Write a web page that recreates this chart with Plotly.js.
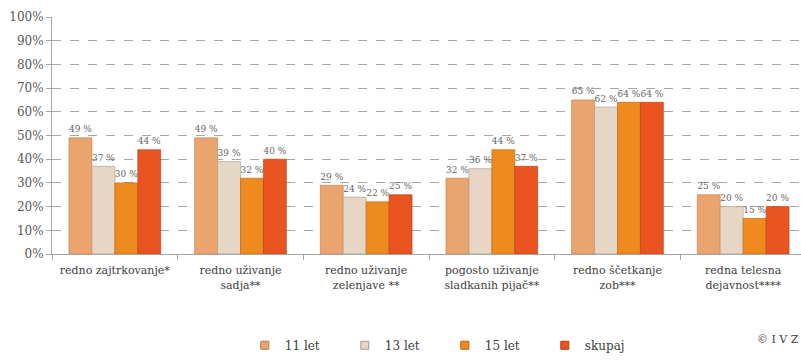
<!DOCTYPE html>
<html>
<head>
<meta charset="utf-8">
<script src="https://cdn.plot.ly/plotly-3.0.1.min.js"></script>
<style>
html,body{margin:0;padding:0;overflow:hidden;background:#fff;width:801px;height:364px;}
#chart{width:810px;height:364px;}
</style>
</head>
<body>
<div id="chart"></div>
<script>
const categories = [
  "redno zajtrkovanje*",
  "redno uživanje<br>sadja**",
  "redno uživanje<br>zelenjave **",
  "pogosto uživanje<br>sladkanih pijač**",
  "redno ščetkanje<br>zob***",
  "redna telesna<br>dejavnost****"
];
const seriesNames = ["11 let", "13 let", "15 let", "skupaj"];
const v11 = [0.49, 0.49, 0.29, 0.32, 0.65, 0.25];
const v13 = [0.37, 0.39, 0.24, 0.36, 0.62, 0.20];
const v15 = [0.30, 0.32, 0.22, 0.44, 0.64, 0.15];
const vAll = [0.44, 0.40, 0.25, 0.37, 0.64, 0.20];
const yTickVals = [0,0.1,0.2,0.3,0.4,0.5,0.6,0.7,0.8,0.9,1.0];
const yTickText = ["0%","10%","20%","30%","40%","50%","60%","70%","80%","90%","100%"];

const FONT = "DejaVu Serif";
const colors = ["#EBA46E", "#E8D6C4", "#EF8A1F", "#EA5420"];
const lineColors = ["#B87A48", "#A89888", "#B8620E", "#B23A12"];
const values = [v11, v13, v15, vAll];

const traces = values.map((vals, i) => ({
  type: "bar",
  name: seriesNames[i],
  x: categories,
  y: vals,
  text: vals.map(v => Math.round(v*100) + " %"),
  textposition: "outside",
  cliponaxis: false,
  textfont: {family: FONT, size: 11, color: "#666666"},
  marker: {color: colors[i], line: {color: lineColors[i], width: 0.6}},
  showlegend: false,
  hoverinfo: "none"
}));

values.forEach((vals, i) => {
  traces.push({
    type: "scatter", mode: "markers",
    name: seriesNames[i],
    x: [categories[0]], y: [null],
    marker: {symbol: "square", size: 8, color: colors[i], line: {color: lineColors[i], width: 1}},
    showlegend: true, hoverinfo: "none"
  });
});

const layout = {
  width: 810, height: 364,
  margin: {l: 52, r: 4, t: 17, b: 108},
  paper_bgcolor: "#fff", plot_bgcolor: "#fff",
  barmode: "group", bargap: 0.27, bargroupgap: 0,
  font: {family: FONT, color: "#595959", size: 12},
  xaxis: {
    type: "category",
    range: [-0.5, 5.5], autorange: false,
    tickangle: 0,
    showline: true, linecolor: "#A6A6A6", linewidth: 1,
    ticks: "outside", tickson: "boundaries", ticklen: 5, tickcolor: "#A6A6A6",
    ticklabelstandoff: 6,
    tickfont: {family: FONT, size: 11, color: "#404040"},
    showgrid: false, zeroline: false, fixedrange: true
  },
  yaxis: {
    range: [0, 1],
    tickvals: yTickVals, ticktext: yTickText,
    showline: true, linecolor: "#A6A6A6", linewidth: 1,
    ticks: "outside", ticklen: 5, tickcolor: "#A6A6A6",
    tickfont: {family: FONT, size: 12, color: "#595959"},
    showgrid: true, gridcolor: "#A6A6A6", griddash: "dash", gridwidth: 1,
    zeroline: false, fixedrange: true
  },
  showlegend: true,
  legend: {
    orientation: "h",
    x: 0.2557, xanchor: "left",
    y: -0.385, yanchor: "middle",
    entrywidth: 55, entrywidthmode: "pixels",
    itemwidth: 30, tracegroupgap: 0,
    font: {family: FONT, size: 12, color: "#404040"},
    traceorder: "normal"
  },
  annotations: [{
    text: "© I V Z",
    xref: "paper", yref: "paper",
    x: 0.932, y: -0.36, xanchor: "left", yanchor: "middle",
    showarrow: false,
    font: {family: FONT, size: 11, color: "#404040"}
  }]
};

Plotly.newPlot("chart", traces, layout, {displayModeBar: false, staticPlot: true});
</script>
</body>
</html>
